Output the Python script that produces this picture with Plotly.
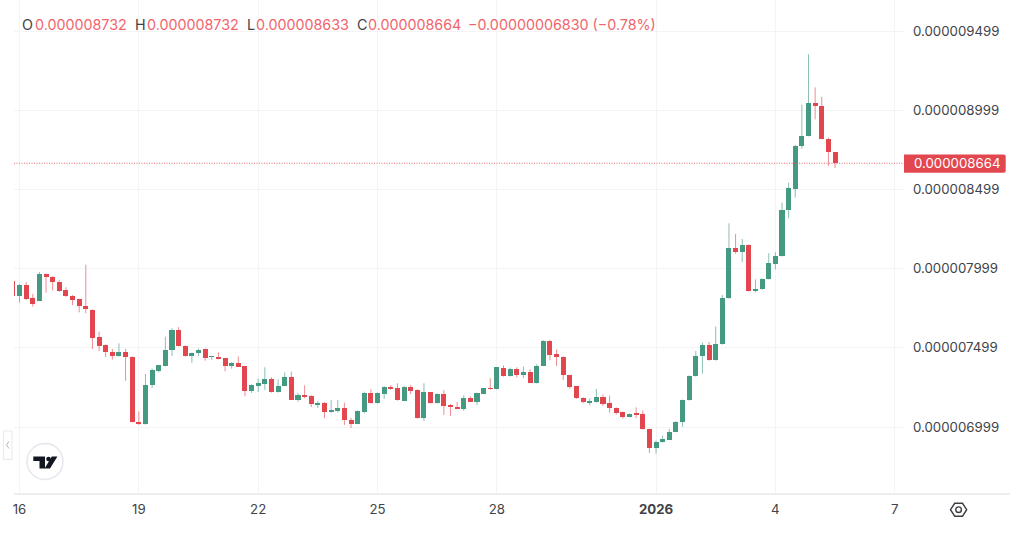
import pandas as pd
import plotly.graph_objects as go

# 4-hour candles, prices in millionths
FIRST_BAR = "2025-12-15 20:00"
opens = [7.923,7.828,7.895,7.813,7.797,7.963,7.948,7.912,7.862,7.826,7.805,7.765,7.740,7.565,7.515,7.475,7.445,7.475,7.443,7.031,7.018,7.262,7.353,7.384,7.485,7.609,7.513,7.445,7.468,7.492,7.441,7.443,7.433,
         7.386,7.401,7.384,7.228,7.258,7.273,7.304,7.218,7.260,7.313,7.172,7.201,7.197,7.140,7.153,7.094,7.106,7.117,7.043,7.018,7.096,7.214,7.149,7.210,7.250,7.243,7.165,7.254,7.231,7.054,7.218,7.149,
         7.210,7.136,7.125,7.115,7.182,7.157,7.210,7.243,7.237,7.374,7.319,7.365,7.325,7.348,7.275,7.386,7.544,7.458,7.443,7.325,7.256,7.182,7.155,7.155,7.186,7.149,7.121,7.092,7.062,7.085,7.083,6.987,6.867,
         6.903,6.919,6.968,7.029,7.168,7.319,7.447,7.515,7.420,7.521,7.811,8.131,8.106,8.150,7.856,7.868,7.934,8.030,8.077,8.369,8.504,8.775,8.836,9.042,9.028,8.819,8.732]
highs = [7.927,7.902,7.914,7.839,7.978,7.967,7.952,7.925,7.881,7.832,7.809,8.024,7.742,7.601,7.521,7.492,7.527,7.492,7.445,7.098,7.334,7.369,7.390,7.569,7.622,7.630,7.515,7.470,7.494,7.494,7.447,7.470,7.435,
         7.409,7.445,7.384,7.268,7.304,7.376,7.313,7.300,7.344,7.348,7.214,7.262,7.199,7.163,7.155,7.170,7.170,7.153,7.056,7.104,7.222,7.237,7.218,7.258,7.264,7.275,7.258,7.264,7.237,7.275,7.220,7.212,
         7.231,7.144,7.157,7.199,7.193,7.216,7.245,7.306,7.378,7.388,7.374,7.376,7.380,7.363,7.395,7.548,7.548,7.489,7.445,7.329,7.258,7.188,7.180,7.239,7.203,7.197,7.123,7.096,7.085,7.123,7.104,6.989,6.913,
         6.945,6.987,7.037,7.172,7.325,7.479,7.532,7.536,7.633,7.832,8.285,8.218,8.186,8.152,7.931,7.938,8.096,8.102,8.415,8.541,8.779,9.034,9.352,9.143,9.084,8.826,8.732]
lows = [7.828,7.784,7.801,7.759,7.794,7.847,7.860,7.853,7.820,7.769,7.723,7.717,7.492,7.479,7.441,7.424,7.443,7.290,7.027,7.012,7.014,7.245,7.342,7.382,7.447,7.508,7.443,7.403,7.447,7.418,7.422,7.426,7.351,
        7.367,7.378,7.193,7.214,7.220,7.233,7.216,7.216,7.258,7.172,7.159,7.180,7.125,7.119,7.054,7.090,7.090,7.012,6.993,7.016,7.085,7.146,7.146,7.176,7.235,7.165,7.163,7.207,7.052,7.037,7.146,7.146,
        7.075,7.069,7.111,7.102,7.157,7.138,7.207,7.235,7.235,7.317,7.317,7.313,7.308,7.275,7.273,7.384,7.420,7.384,7.296,7.241,7.176,7.149,7.136,7.153,7.132,7.090,7.077,7.052,7.060,7.056,6.982,6.835,6.831,
        6.900,6.917,6.966,7.000,7.166,7.317,7.336,7.418,7.418,7.519,7.809,8.093,8.039,7.854,7.847,7.866,7.931,7.994,8.075,8.316,8.447,8.756,8.834,8.941,8.815,8.647,8.633]
closes = [7.828,7.898,7.809,7.776,7.963,7.946,7.912,7.858,7.824,7.803,7.763,7.742,7.563,7.510,7.473,7.445,7.475,7.441,7.029,7.016,7.264,7.357,7.388,7.487,7.609,7.510,7.445,7.468,7.487,7.437,7.445,7.428,7.386,
          7.403,7.380,7.228,7.262,7.275,7.304,7.218,7.260,7.315,7.172,7.201,7.193,7.142,7.153,7.094,7.109,7.117,7.041,7.018,7.100,7.216,7.149,7.214,7.250,7.239,7.167,7.254,7.226,7.054,7.218,7.149,7.210,
          7.132,7.123,7.115,7.182,7.159,7.212,7.243,7.239,7.376,7.321,7.367,7.325,7.348,7.277,7.386,7.544,7.456,7.443,7.325,7.254,7.180,7.155,7.159,7.186,7.146,7.119,7.090,7.062,7.083,7.079,6.984,6.867,6.905,
          6.924,6.970,7.033,7.170,7.323,7.450,7.515,7.420,7.523,7.814,8.131,8.106,8.150,7.856,7.870,7.936,8.032,8.079,8.371,8.506,8.775,8.836,9.042,9.028,8.817,8.732,8.664]

price_ticks = [6.999, 7.499, 7.999, 8.499, 8.999, 9.499]
price_tick_labels = ["0.000006999", "0.000007499", "0.000007999", "0.000008499", "0.000008999", "0.000009499"]
date_ticks = ["2025-12-16", "2025-12-19", "2025-12-22", "2025-12-25", "2025-12-28", "2026-01-01", "2026-01-04", "2026-01-07"]
date_tick_labels = ["16", "19", "22", "25", "28", "<b>2026</b>", "4", "7"]

legend_items = [("O", "0.000008732"), ("H", "0.000008732"), ("L", "0.000008633"), ("C", "0.000008664")]
change_label = "−0.00000006830 (−0.78%)"
last_label = "0.000008664"

GREEN = "#459a82"
RED = "#e2474f"
GREEN_WICK = "rgba(69,154,130,0.62)"
RED_WICK = "rgba(226,71,79,0.62)"
GRID = "#f4f4f6"
TEXT = "#414349"
HEADER_RED = "#f0656d"
FONT = "Inter"
AXIS_SIZE = 13.25
HEADER_SIZE = 14.3

# Plot-area box in window pixels
LEFT, RIGHT, BOTTOM = 14, 904, 494
WIDTH, HEIGHT = 1024, 535


def px(x):
    return (x - LEFT) / (RIGHT - LEFT)


def py(y):
    return 1 - y / BOTTOM


def poly(points):
    return "M " + " L ".join(f"{px(x)},{py(y)}" for x, y in points) + " Z"


def rounded_tag(x0, x1, y0, y1, r):
    return (f"M {px(x0)},{py(y0)} L {px(x1 - r)},{py(y0)} Q {px(x1)},{py(y0)} {px(x1)},{py(y0 + r)} "
            f"L {px(x1)},{py(y1 - r)} Q {px(x1)},{py(y1)} {px(x1 - r)},{py(y1)} L {px(x0)},{py(y1)} Z")


times = pd.date_range(FIRST_BAR, periods=len(opens), freq="4h")
BAR_MS = 4 * 3600 * 1000
origin = pd.Timestamp("2025-12-16")
x_range = [origin + pd.Timedelta(hours=-3.32), origin + pd.Timedelta(hours=533.6)]

fig = go.Figure()

# Wicks, one broken line per direction
for rising, colour in ((True, GREEN_WICK), (False, RED_WICK)):
    wx, wy = [], []
    for t, o, h, l, c in zip(times, opens, highs, lows, closes):
        if (c >= o) == rising:
            wx += [t, t, None]
            wy += [l, h, None]
    fig.add_trace(go.Scatter(x=wx, y=wy, mode="lines", line=dict(color=colour, width=1),
                             hoverinfo="skip", connectgaps=False))

# Candle bodies
fig.add_trace(go.Bar(
    x=times,
    base=[min(o, c) for o, c in zip(opens, closes)],
    y=[abs(c - o) for o, c in zip(opens, closes)],
    width=BAR_MS * 0.76,
    marker=dict(color=[GREEN if c >= o else RED for o, c in zip(opens, closes)], line=dict(width=0)),
    hoverinfo="skip",
))

shapes = [
    # Last-price line and tag
    dict(type="line", xref="paper", yref="y", x0=0, x1=1, y0=closes[-1], y1=closes[-1],
         line=dict(color="rgba(226,71,79,0.8)", width=1, dash="1px,1.5px"), layer="above"),
    dict(type="path", xref="paper", yref="paper", fillcolor=RED, line=dict(width=0),
         path=rounded_tag(904, 1005.7, 154.4, 172.8, 2)),
    # Time-axis rule
    dict(type="line", xref="paper", yref="paper", x0=px(14), x1=px(1010), y0=py(494), y1=py(494),
         line=dict(color="#eeeeef", width=2)),
    # Logo badge
    dict(type="circle", xref="paper", yref="paper", x0=px(27), x1=px(63), y0=py(479.5), y1=py(443.5),
         fillcolor="white", line=dict(color="#e6e6ef", width=1.5)),
    dict(type="path", xref="paper", yref="paper", fillcolor="#131722", line=dict(width=0),
         path=poly([(33.3, 456.5), (45, 456.5), (45, 468.5), (39.5, 468.5), (39.5, 461), (33.3, 461)])),
    dict(type="circle", xref="paper", yref="paper", fillcolor="#131722", line=dict(width=0),
         x0=px(46.2), x1=px(50.8), y0=py(461.3), y1=py(456.7)),
    dict(type="path", xref="paper", yref="paper", fillcolor="#131722", line=dict(width=0),
         path=poly([(51.8, 456.5), (57.4, 456.5), (50, 468.5), (44.6, 468.5)])),
    # Collapse handle
    dict(type="rect", xref="paper", yref="paper", x0=px(3.5), x1=px(12), y0=py(459.5), y1=py(431),
         fillcolor="white", line=dict(color="#e8e8ee", width=1)),
    dict(type="path", xref="paper", yref="paper", line=dict(color="#b4b5ba", width=1),
         path=f"M {px(9)},{py(441.5)} L {px(6.5)},{py(445)} L {px(9)},{py(448.5)}"),
    # Settings icon
    dict(type="path", xref="paper", yref="paper", line=dict(color="#3d3f45", width=1.4),
         path=poly([(950.5, 509.7), (954.7, 503.3), (962.5, 503.3), (966.7, 509.7), (962.5, 516.2), (954.7, 516.2)])),
    dict(type="circle", xref="paper", yref="paper", line=dict(color="#3d3f45", width=1.4),
         x0=px(955.8), x1=px(961.4), y0=py(512.5), y1=py(506.9)),
]

annotations = [
    dict(xref="paper", yref="y", x=px(912), y=closes[-1], xanchor="left", yanchor="middle", showarrow=False,
         text=last_label, font=dict(family=FONT, size=AXIS_SIZE, color="white")),
]
label_x = [20, 133, 245, 355]
value_x = [33, 145, 254, 366]
for (letter, value), lx, vx in zip(legend_items, label_x, value_x):
    annotations.append(dict(xref="paper", yref="paper", x=px(lx), y=py(24), xanchor="left", yanchor="middle",
                            showarrow=False, text=letter, font=dict(family=FONT, size=HEADER_SIZE, color=TEXT)))
    annotations.append(dict(xref="paper", yref="paper", x=px(vx), y=py(24), xanchor="left", yanchor="middle",
                            showarrow=False, text=value, font=dict(family=FONT, size=HEADER_SIZE, color=HEADER_RED)))
annotations.append(dict(xref="paper", yref="paper", x=px(466), y=py(24), xanchor="left", yanchor="middle",
                        showarrow=False, text=change_label, font=dict(family=FONT, size=HEADER_SIZE, color=HEADER_RED)))

fig.update_layout(
    width=WIDTH,
    height=HEIGHT,
    margin=dict(l=LEFT, r=WIDTH - RIGHT, t=0, b=HEIGHT - BOTTOM, pad=0),
    paper_bgcolor="white",
    plot_bgcolor="white",
    showlegend=False,
    hovermode=False,
    dragmode=False,
    bargap=0,
    shapes=shapes,
    annotations=annotations,
    font=dict(family=FONT, size=AXIS_SIZE, color=TEXT),
    xaxis=dict(type="date", range=x_range, tickmode="array", tickvals=date_ticks, ticktext=date_tick_labels,
               showgrid=True, gridcolor=GRID, gridwidth=1, showline=False, zeroline=False, ticks="",
               ticklabelstandoff=6, tickfont=dict(family=FONT, size=AXIS_SIZE, color=TEXT)),
    yaxis=dict(side="right", range=[6.576, 9.6947], tickmode="array", tickvals=price_ticks,
               ticktext=price_tick_labels, showgrid=True, gridcolor=GRID, gridwidth=1, showline=False,
               zeroline=False, ticks="", ticklabelstandoff=8, tickfont=dict(family=FONT, size=AXIS_SIZE, color=TEXT)),
)

fig.write_html("out.html")
